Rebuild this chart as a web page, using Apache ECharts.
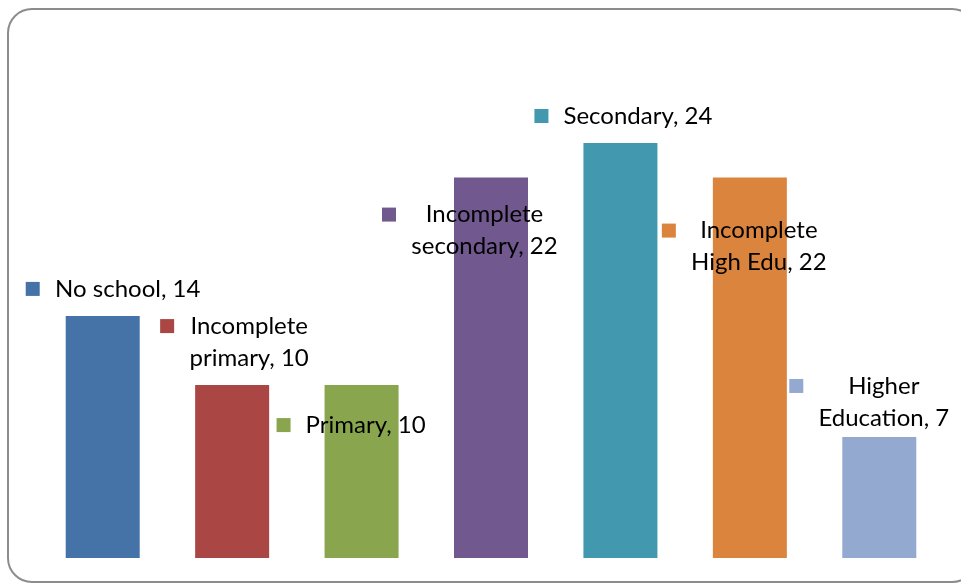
<!DOCTYPE html>
<html>
<head>
<meta charset="utf-8">
<script src="https://cdn.jsdelivr.net/npm/echarts@6/dist/echarts.min.js"></script>
<style>
  html, body { margin: 0; padding: 0; background: #fff; }
  #chart { width: 961px; height: 583px; }
</style>
</head>
<body>
<div id="chart"></div>
<script>
var categories = ['No school', 'Incomplete\nprimary', 'Primary', 'Incomplete\nsecondary', 'Secondary', 'Incomplete\nHigh Edu', 'Higher\nEducation']
var values = [14, 10, 10, 22, 24, 22, 7]
var colors = ['#4572A7', '#AA4643', '#89A54E', '#71588F', '#4198AF', '#DB843D', '#93A9CF']
// where each label box sits, relative to the top-left of its bar
var labelOffsets = [[-40, -43], [-35, -75], [-48, 24], [-72, 21], [-49, -43], [-51, 37], [-53, -67]]

var fontFamily = 'Lato'
var fontSize = 24
var ctx = document.createElement('canvas').getContext('2d')
ctx.font = fontSize + 'px ' + fontFamily

function textWidth (s) {
  return Math.ceil(ctx.measureText(s).width)
}

var seriesData = values.map(function (v, i) {
  var lines = (categories[i] + ', ' + v).split('\n')
  var blockW = Math.max.apply(null, lines.map(textWidth))
  var text = lines.map(function (line, j) {
    return (j === 0 ? '{m|}' : '{b|}') + '{g|}' + '{t|' + line + '}'
  }).join('\n')
  return {
    value: v,
    itemStyle: { color: colors[i] },
    label: {
      show: true,
      position: labelOffsets[i],
      align: 'left',
      verticalAlign: 'top',
      formatter: text,
      rich: {
        m: { width: 14, height: 14, backgroundColor: colors[i], lineHeight: 32, verticalAlign: 'middle' },
        b: { width: 14, height: 14, lineHeight: 32 },
        g: { width: 15, lineHeight: 32 },
        t: { width: blockW, align: 'center', lineHeight: 32, fontSize: fontSize, fontFamily: fontFamily, color: '#000' }
      }
    }
  }
})

var chart = echarts.init(document.getElementById('chart'))
chart.setOption({
  animation: false,
  backgroundColor: '#fff',
  graphic: [{
    type: 'rect',
    shape: { x: 8, y: 9, width: 968, height: 573, r: 24 },
    style: { fill: 'none', stroke: '#8c8c8c', lineWidth: 2 },
    silent: true
  }],
  grid: { left: 38, right: 17, top: 143, bottom: 25 },
  xAxis: {
    type: 'category',
    data: categories,
    axisLine: { show: false },
    axisTick: { show: false },
    axisLabel: { show: false }
  },
  yAxis: {
    type: 'value',
    min: 0,
    max: 24,
    show: false,
    splitLine: { show: false }
  },
  series: [{
    type: 'bar',
    barWidth: 74,
    data: seriesData
  }]
})
</script>
</body>
</html>
